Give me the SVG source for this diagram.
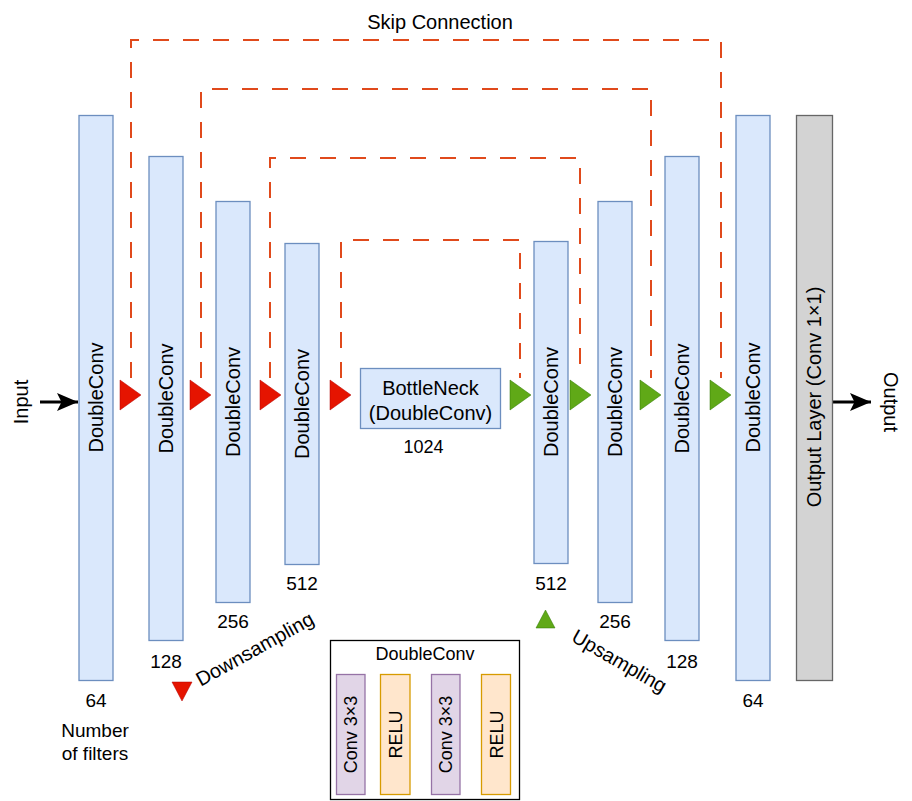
<svg xmlns="http://www.w3.org/2000/svg" width="912" height="801" viewBox="0 0 912 801">
<style>
text{font-family:"Liberation Sans",Arial,sans-serif;fill:#000}
.bar{fill:#dae8fc;stroke:#6c8ebf;stroke-width:1.3}
.t20{font-size:20px}
.t19{font-size:19px}
.t18{font-size:18px}
.skip{fill:none;stroke:#e04a1c;stroke-width:2;stroke-dasharray:16 14}
.down{fill:#e51400;stroke:#b20000;stroke-width:0.5}
.up{fill:#60a917;stroke:#2d7600;stroke-width:0.5}
.conv{fill:#e1d5e7;stroke:#9673a6;stroke-width:1.3}
.relu{fill:#ffe6cc;stroke:#d79b00;stroke-width:1.3}
</style>
<defs>
<marker id="bigArrow" markerWidth="8" markerHeight="8" refX="7" refY="4" orient="auto" markerUnits="strokeWidth">
<path d="M0,1 L7,4 L0,7 L1.5,4 Z" fill="#000"/>
</marker>
<marker id="smallArrow" markerWidth="10" markerHeight="10" refX="9" refY="5" orient="auto" markerUnits="userSpaceOnUse">
<path d="M0,1 L9,5 L0,9 L2,5 Z" fill="#000"/>
</marker>
</defs>

<g id="connectors">
<path class="skip" d="M131,378 V40 H721 V378"/>
<path class="skip" d="M201,378 V89 H651 V378"/>
<path class="skip" d="M270,378 V158 H580 V378"/>
<path class="skip" d="M341,378 V240 H520 V378"/>
<line x1="40" y1="402" x2="78" y2="402" stroke="#000" stroke-width="3" marker-end="url(#bigArrow)"/>
<line x1="833" y1="402" x2="871" y2="402" stroke="#000" stroke-width="3" marker-end="url(#bigArrow)"/>
<line x1="365" y1="734" x2="380" y2="734" stroke="#000" stroke-width="1.3" marker-end="url(#smallArrow)"/>
<line x1="410" y1="734" x2="431" y2="734" stroke="#000" stroke-width="1.3" marker-end="url(#smallArrow)"/>
<line x1="460" y1="734" x2="481" y2="734" stroke="#000" stroke-width="1.3" marker-end="url(#smallArrow)"/>
</g>

<text class="t20" x="440" y="29" text-anchor="middle">Skip Connection</text>
<text class="t20" transform="translate(28,402) rotate(-90)" text-anchor="middle">Input</text>
<text class="t20" transform="translate(884,402) rotate(90)" text-anchor="middle">Output</text>

<g id="enc1">
<rect class="bar" x="79" y="115.5" width="34" height="565"/>
<text class="t20" transform="translate(103,397.5) rotate(-90)" text-anchor="middle">DoubleConv</text>
<text class="t19" x="96" y="707" text-anchor="middle">64</text>
</g>
<g id="enc2">
<rect class="bar" x="149" y="156.5" width="34" height="484"/>
<text class="t20" transform="translate(173,398.5) rotate(-90)" text-anchor="middle">DoubleConv</text>
<text class="t19" x="166" y="668" text-anchor="middle">128</text>
</g>
<g id="enc3">
<rect class="bar" x="216" y="201.5" width="34" height="401"/>
<text class="t20" transform="translate(240,402) rotate(-90)" text-anchor="middle">DoubleConv</text>
<text class="t19" x="233" y="628" text-anchor="middle">256</text>
</g>
<g id="enc4">
<rect class="bar" x="285" y="243.5" width="34" height="321"/>
<text class="t20" transform="translate(309,404) rotate(-90)" text-anchor="middle">DoubleConv</text>
<text class="t19" x="302" y="590" text-anchor="middle">512</text>
</g>
<g id="bottleneck">
<rect class="bar" x="360.5" y="368.5" width="140" height="60"/>
<text class="t20" x="430.5" y="395" text-anchor="middle">BottleNeck</text>
<text class="t20" x="430.5" y="420" text-anchor="middle">(DoubleConv)</text>
<text class="t18" x="423.5" y="453" text-anchor="middle">1024</text>
</g>
<g id="dec4">
<rect class="bar" x="534" y="241.5" width="34" height="322"/>
<text class="t20" transform="translate(558,402) rotate(-90)" text-anchor="middle">DoubleConv</text>
<text class="t19" x="551" y="590" text-anchor="middle">512</text>
</g>
<g id="dec3">
<rect class="bar" x="598" y="201.5" width="34" height="401"/>
<text class="t20" transform="translate(622,402) rotate(-90)" text-anchor="middle">DoubleConv</text>
<text class="t19" x="615" y="628" text-anchor="middle">256</text>
</g>
<g id="dec2">
<rect class="bar" x="665" y="156.5" width="34" height="484"/>
<text class="t20" transform="translate(689,398.5) rotate(-90)" text-anchor="middle">DoubleConv</text>
<text class="t19" x="682" y="668" text-anchor="middle">128</text>
</g>
<g id="dec1">
<rect class="bar" x="736" y="115.5" width="34" height="565"/>
<text class="t20" transform="translate(760,397.5) rotate(-90)" text-anchor="middle">DoubleConv</text>
<text class="t19" x="753" y="707" text-anchor="middle">64</text>
</g>
<g id="outputLayer">
<rect x="796.5" y="115.5" width="36" height="565" fill="#d3d3d3" stroke="#666666" stroke-width="1.3"/>
<text class="t20" transform="translate(821,397) rotate(-90)" text-anchor="middle">Output Layer (Conv 1×1)</text>
</g>

<g id="downsample">
<polygon class="down" points="120,380 120,410 141,395"/>
<polygon class="down" points="190,380 190,410 211,395"/>
<polygon class="down" points="260,380 260,410 281,395"/>
<polygon class="down" points="330,380 330,410 351,395"/>
</g>
<g id="upsample">
<polygon class="up" points="510,380 510,410 531,395"/>
<polygon class="up" points="570,380 570,410 591,395"/>
<polygon class="up" points="640,380 640,410 661,395"/>
<polygon class="up" points="710,380 710,410 731,395"/>
</g>

<g id="legendFilters">
<text class="t19" x="95" y="737" text-anchor="middle">Number</text>
<text class="t19" x="95" y="760" text-anchor="middle">of filters</text>
</g>
<g id="legendDown">
<polygon class="down" points="172,682 192,682 182,701"/>
<text class="t20" transform="translate(258,655) rotate(-29)" text-anchor="middle">Downsampling</text>
</g>
<g id="legendUp">
<polygon class="up" points="536,628 555,628 545.5,610"/>
<text class="t20" transform="translate(616,667) rotate(30)" text-anchor="middle">Upsampling</text>
</g>

<g id="doubleConvLegend">
<rect x="330.5" y="640.5" width="189" height="159" fill="#fff" stroke="#000" stroke-width="1.3"/>
<text class="t18" x="425" y="660" text-anchor="middle">DoubleConv</text>
<g id="conv1">
<rect class="conv" x="336.5" y="674.5" width="28.5" height="120"/>
<text class="t18" transform="translate(357,734.5) rotate(-90)" text-anchor="middle">Conv 3×3</text>
</g>
<g id="relu1">
<rect class="relu" x="380.5" y="674.5" width="29.5" height="120"/>
<text class="t18" transform="translate(402,734.5) rotate(-90)" text-anchor="middle">RELU</text>
</g>
<g id="conv2">
<rect class="conv" x="431.5" y="674.5" width="28.5" height="120"/>
<text class="t18" transform="translate(452,734.5) rotate(-90)" text-anchor="middle">Conv 3×3</text>
</g>
<g id="relu2">
<rect class="relu" x="481.5" y="674.5" width="29" height="120"/>
<text class="t18" transform="translate(502.5,734.5) rotate(-90)" text-anchor="middle">RELU</text>
</g>
</g>
</svg>
